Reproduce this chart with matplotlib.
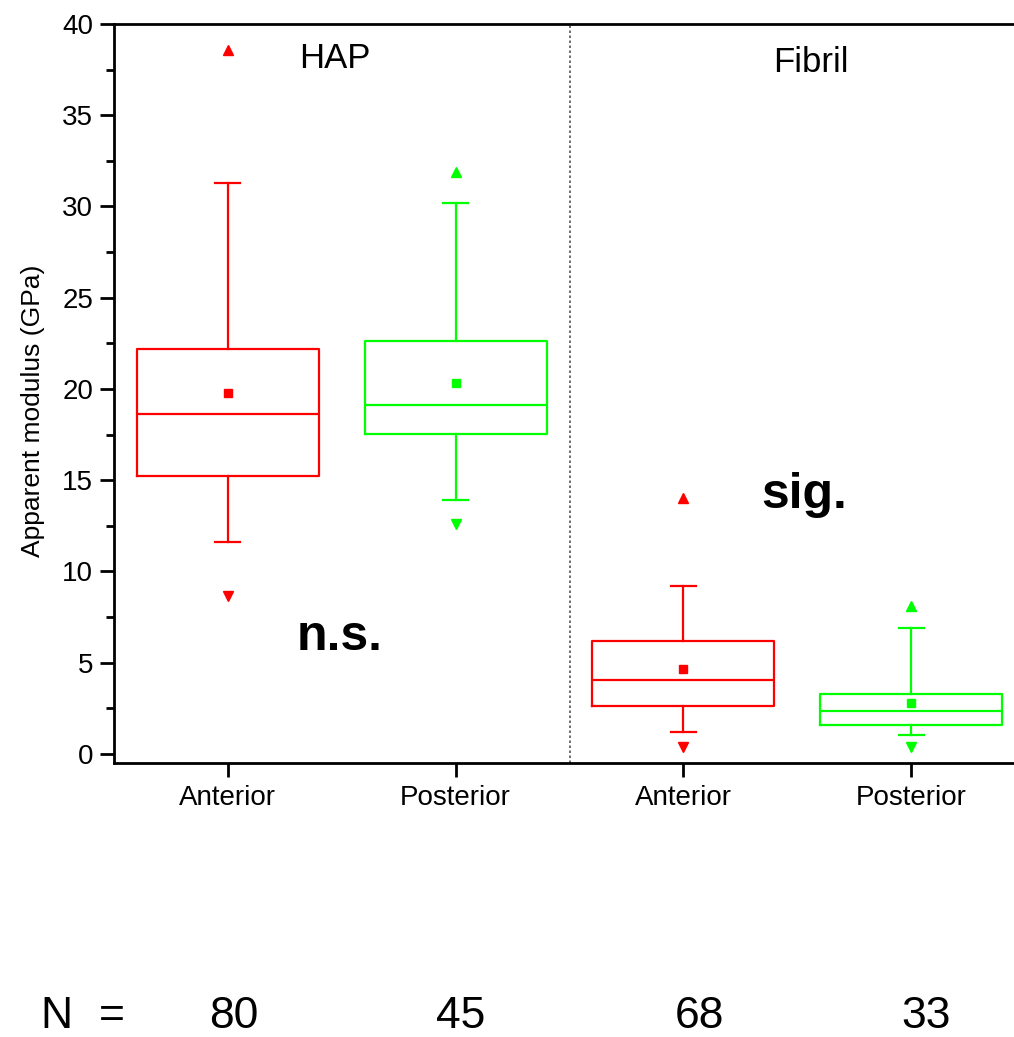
import numpy as np
import matplotlib
matplotlib.use("Agg")
import matplotlib.pyplot as plt
from matplotlib.ticker import MultipleLocator

plt.rcParams['font.family'] = ['Liberation Sans', 'DejaVu Sans']

# data (GPa)
categories = ["Anterior", "Posterior", "Anterior", "Posterior"]
colors = ["#ff0000", "#00ff00", "#ff0000", "#00ff00"]
whis_hi = [31.3, 30.2, 9.2, 6.9]
q3 = [22.2, 22.6, 6.2, 3.3]
medians = [18.6, 19.1, 4.05, 2.35]
q1 = [15.25, 17.55, 2.6, 1.6]
whis_lo = [11.6, 13.9, 1.2, 1.05]
means = [19.75, 20.35, 4.65, 2.8]
maxima = [38.6, 31.9, 14.0, 8.1]
minima = [8.65, 12.6, 0.35, 0.35]
n_counts = ["80", "45", "68", "33"]
groups = ["HAP", "Fibril"]

W, H = 1014, 1037
fig = plt.figure(figsize=(W / 100, H / 100), dpi=100)
ax = fig.add_axes([114 / W, 1 - 763 / H, (1025 - 114) / W, (763 - 24) / H])

pos = np.arange(1, len(categories) + 1)

for i, p in enumerate(pos):
    stats = [dict(med=medians[i], q1=q1[i], q3=q3[i], whislo=whis_lo[i],
                  whishi=whis_hi[i], mean=means[i], fliers=[])]
    c = colors[i]
    ax.bxp(stats, positions=[p], widths=0.8, capwidths=0.11, showmeans=True,
           showfliers=False, manage_ticks=False,
           boxprops=dict(color=c, linewidth=1.6),
           medianprops=dict(color=c, linewidth=1.6),
           whiskerprops=dict(color=c, linewidth=1.6),
           capprops=dict(color=c, linewidth=1.6),
           meanprops=dict(marker='s', markerfacecolor=c, markeredgecolor=c,
                          markersize=6))
    ax.plot(p, maxima[i], marker='^', color=c, markersize=7.5, linestyle='none')
    ax.plot(p, minima[i], marker='v', color=c, markersize=7.5, linestyle='none')

ax.axvline(2.5, color='#555555', linestyle=(0, (1.5, 1.5)), linewidth=1.2)

ax.set_xlim(0.5, 4.5)
ax.set_ylim(-0.5, 40)
ax.set_xticks(pos)
ax.set_xticklabels(categories, fontsize=20)
ax.yaxis.set_major_locator(MultipleLocator(5))
ax.yaxis.set_minor_locator(MultipleLocator(2.5))
ax.tick_params(axis='y', which='major', length=10, width=2, labelsize=20, pad=5)
ax.tick_params(axis='y', which='minor', length=5.5, width=2)
ax.tick_params(axis='x', length=10, width=2, pad=6)

for s in ['left', 'bottom', 'top']:
    ax.spines[s].set_linewidth(2)
ax.spines['right'].set_visible(False)

ax.text(1.47, 38.1, groups[0], fontsize=25, ha='center', va='center')
ax.text(3.56, 37.9, groups[1], fontsize=25, ha='center', va='center')
ax.text(1.49, 6.4, "n.s.", fontsize=36, fontweight='bold', ha='center', va='center')
ax.text(3.53, 14.2, "sig.", fontsize=36, fontweight='bold', ha='center', va='center')

fig.text(33 / W, 1 - 411 / H, "Apparent modulus (GPa)", rotation=90,
         fontsize=19, ha='center', va='center')

y_n = 1 - 1017 / H
fig.text(56 / W, y_n, "N", fontsize=32, ha='center', va='center')
fig.text(112 / W, y_n, "=", fontsize=32, ha='center', va='center')
for x_px, n in zip([234, 461, 699, 926], n_counts):
    fig.text(x_px / W, y_n, n, fontsize=32, ha='center', va='center')

fig.savefig("out.png", dpi=100)
